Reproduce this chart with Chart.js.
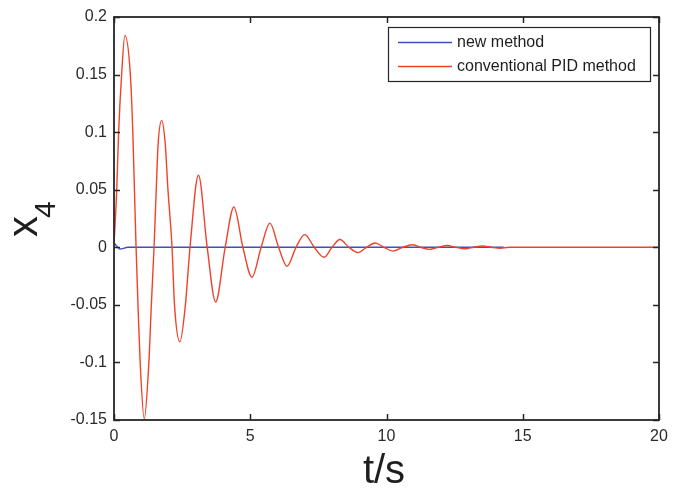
<!DOCTYPE html>
<html>
<head>
<meta charset="utf-8">
<script src="https://cdn.jsdelivr.net/npm/chart.js@4.4.1/dist/chart.umd.min.js"></script>
<style>
  html, body { margin: 0; padding: 0; background: #ffffff; }
  #wrap { width: 679px; height: 489px; }
</style>
</head>
<body>
<div id="wrap"><canvas id="c" width="679" height="489"></canvas></div>
<script>
// ---- data ----
const seriesNames = ["new method", "conventional PID method"];

const tNew = [0, 0.1, 0.2, 0.35, 0.5, 14.3];
const xNew = [0.004, 0.001, -0.0015, -0.001, 0, 0];

const tPID = [0, 0.1, 0.17, 0.28, 0.40, 0.6, 0.69, 0.75, 0.81,
              0.88, 0.96, 1.11, 1.28, 1.37, 1.47,
              1.55, 1.62, 1.75, 1.88, 1.98, 2.13,
              2.22, 2.42, 2.62, 2.79,
              3.1, 3.42, 3.73, 4.08, 4.4, 4.73,
              5.06, 5.4, 5.72, 6.04, 6.35, 6.68, 7.0, 7.35, 7.71, 8.0, 8.29, 8.62, 8.95, 9.27, 9.58,
              9.91, 10.24, 10.6, 10.94, 11.25, 11.57, 11.9, 12.22, 12.55, 12.87, 13.2, 13.52, 13.85,
              14.17, 14.5, 20];
const xPID = [0.002, 0.05, 0.1, 0.15, 0.184, 0.15, 0.1, 0.05, 0,
              -0.05, -0.1, -0.149, -0.1, -0.05, 0,
              0.05, 0.09, 0.11, 0.09, 0.05, 0,
              -0.05, -0.082, -0.05, 0,
              0.0625, 0, -0.0475, 0, 0.035, 0,
              -0.026, 0, 0.021, 0, -0.0165, 0, 0.011, 0, -0.0087, 0, 0.0067, 0, -0.0046, 0, 0.0037,
              0, -0.0033, 0, 0.0022, 0, -0.0018, 0, 0.0015, 0, -0.0013, 0, 0.0011, 0,
              -0.0008, 0, 0];

const xTickValues = [0, 5, 10, 15, 20];
const yTickValues = [-0.15, -0.1, -0.05, 0, 0.05, 0.1, 0.15, 0.2];
const xTitle = "t/s";
const yTitleMain = "x";
const yTitleSub = "4";

// ---- styling ----
const BLUE = "#3d4fc4";
const RED = "#f2412b";
const AXIS = "#262626";
const FONT = "'Liberation Sans', Arial, sans-serif";

function pts(ts, vs) { return ts.map((t, i) => ({ x: t, y: vs[i] })); }

const boxPlugin = {
  id: "boxPlugin",
  afterDraw(chart) {
    const { ctx, chartArea: a, scales } = chart;
    ctx.save();
    // ticks pointing inward on all four sides
    ctx.strokeStyle = AXIS;
    ctx.lineWidth = 1.5;
    const TL = 6;
    ctx.beginPath();
    xTickValues.forEach(v => {
      const px = Math.round(scales.x.getPixelForValue(v)) + 0.5;
      ctx.moveTo(px, a.bottom); ctx.lineTo(px, a.bottom - TL);
      ctx.moveTo(px, a.top); ctx.lineTo(px, a.top + TL);
    });
    yTickValues.forEach(v => {
      const py = Math.round(scales.y.getPixelForValue(v)) + 0.5;
      ctx.moveTo(a.left, py); ctx.lineTo(a.left + TL, py);
      ctx.moveTo(a.right, py); ctx.lineTo(a.right - TL, py);
    });
    ctx.stroke();
    // box
    ctx.lineWidth = 1.8;
    ctx.strokeRect(a.left, a.top, a.right - a.left, a.bottom - a.top);

    // legend
    const lx = 388, ly = 27, lw = 262, lh = 54;
    ctx.fillStyle = "#ffffff";
    ctx.fillRect(lx, ly, lw, lh);
    ctx.lineWidth = 1.2;
    ctx.strokeStyle = AXIS;
    ctx.strokeRect(lx + 0.5, ly + 0.5, lw, lh);
    const rows = [42, 66];
    chart.data.datasets.forEach((ds, i) => {
      const y = rows[i];
      ctx.strokeStyle = ds.borderColor;
      ctx.lineWidth = 1.4;
      ctx.beginPath();
      ctx.moveTo(398, y + 0.5); ctx.lineTo(452, y + 0.5);
      ctx.stroke();
      ctx.fillStyle = "#1e1e1e";
      ctx.font = "16px " + FONT;
      ctx.textBaseline = "middle";
      ctx.textAlign = "left";
      ctx.fillText(ds.label, 457, y + 1);
    });

    // x title
    ctx.fillStyle = "#1e1e1e";
    ctx.font = "40px " + FONT;
    ctx.textAlign = "center";
    ctx.textBaseline = "alphabetic";
    ctx.fillText(xTitle, 384, 483);

    // y title (rotated, with subscript)
    ctx.translate(37, 237);
    ctx.rotate(-Math.PI / 2);
    ctx.textAlign = "left";
    ctx.font = "42px " + FONT;
    ctx.fillText(yTitleMain, 0, 0);
    ctx.font = "30px " + FONT;
    ctx.fillText(yTitleSub, 19, 18);
    ctx.restore();
  }
};

const fmt = v => {
  const r = Math.round(v * 100) / 100;
  return String(r);
};

new Chart(document.getElementById("c"), {
  type: "line",
  data: {
    datasets: [
      { label: seriesNames[0], data: pts(tNew, xNew), borderColor: BLUE, borderWidth: 1.4,
        pointRadius: 0, fill: false, cubicInterpolationMode: "monotone", order: 1 },
      { label: seriesNames[1], data: pts(tPID, xPID), borderColor: RED, borderWidth: 1.4,
        pointRadius: 0, fill: false, cubicInterpolationMode: "monotone", order: 0 }
    ]
  },
  options: {
    responsive: false,
    animation: false,
    events: [],
    layout: { padding: { left: 0, right: 20, top: 17, bottom: 0 } },
    plugins: { legend: { display: false }, tooltip: { enabled: false }, title: { display: false } },
    scales: {
      x: {
        type: "linear", min: 0, max: 20,
        grid: { display: false, drawTicks: false },
        border: { display: false },
        afterBuildTicks: s => { s.ticks = xTickValues.map(v => ({ value: v })); },
        afterFit: s => { s.height = 69; },
        ticks: { color: "#2a2a2a", font: { size: 16, family: FONT }, padding: 7,
                 maxRotation: 0, autoSkip: false, callback: v => fmt(v) }
      },
      y: {
        type: "linear", min: -0.15, max: 0.2,
        grid: { display: false, drawTicks: false },
        border: { display: false },
        afterBuildTicks: s => { s.ticks = yTickValues.map(v => ({ value: v })); },
        afterFit: s => { s.width = 114; },
        ticks: { color: "#2a2a2a", font: { size: 16, family: FONT }, padding: 7,
                 autoSkip: false, callback: v => fmt(v) }
      }
    }
  },
  plugins: [boxPlugin]
});
</script>
</body>
</html>
